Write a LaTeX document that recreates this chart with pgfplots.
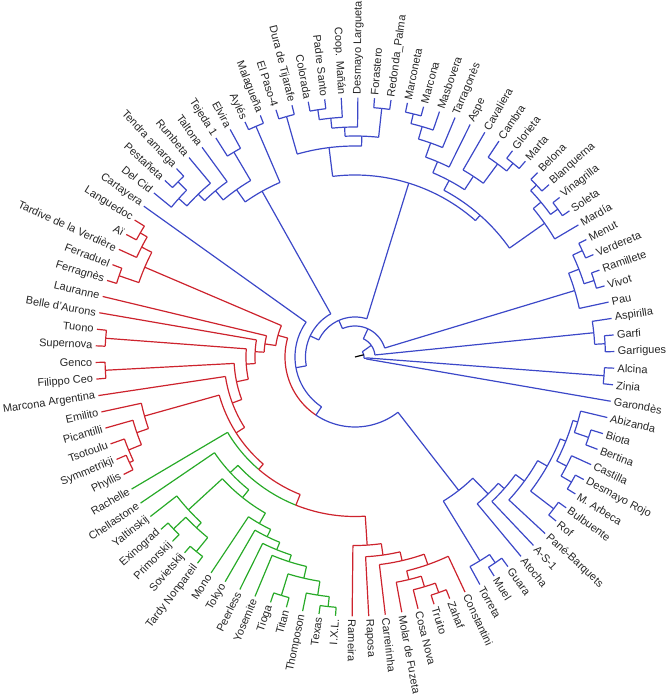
\documentclass[border=0pt]{standalone}
\usepackage{fontspec}
\setmainfont{Liberation Sans}
\usepackage{pgfplots}
\pgfplotsset{compat=1.18}
\usepgfplotslibrary{polar}
\definecolor{cb}{RGB}{60,72,200}
\definecolor{cr}{RGB}{205,35,45}
\definecolor{cg}{RGB}{40,170,40}
\newcommand{\Arc}[4]{%
 \pgfmathsetmacro\aa{min(#1,#2)}\pgfmathsetmacro\bb{max(#1,#2)}%
 \edef\tmp{\noexpand\addplot[#4,domain=\aa:\bb,samples=30]{#3};}\tmp}
\newcommand{\Edge}[4]{\addplot[#4] coordinates {(#1,#2) (#1,#3)};}
\newcommand{\Nd}[8]{\Arc{#1}{#7}{#8}{#3}\Arc{#7}{#4}{#8}{#6}\Edge{#1}{#8}{#2}{#3}\Edge{#4}{#8}{#5}{#6}}
\tikzset{lab/.style={font=\fontsize{5.5}{6}\selectfont,text=black!85,inner sep=0pt}}
\newcommand{\LR}[2]{\node[lab,anchor=west,rotate=#1] at (axis cs:#1,262.5) {#2};}
\newcommand{\LL}[2]{\node[lab,anchor=east,rotate=#1-180] at (axis cs:#1,262.5) {#2};}
\begin{document}
\begin{tikzpicture}
\begin{polaraxis}[scale only axis, width=260pt, height=260pt, ymin=0, ymax=260,
  hide axis, clip=false, xtick=\empty, ytick=\empty,
  every axis plot/.append style={line width=0.6pt, mark=none}]
\coordinate (O) at (axis cs:0,0);
% ---------- blue ----------
\Nd{26.92}{259.5}{cb}{23.24}{259.5}{cb}{25.08}{251}
\Nd{19.57}{259.5}{cb}{15.90}{259.5}{cb}{17.74}{251}
\Nd{25.08}{251}{cb}{17.74}{251}{cb}{21.41}{240.5}
\Nd{21.41}{240.5}{cb}{12.22}{259.5}{cb}{16.82}{229.5}
\Nd{4.87}{259.5}{cb}{1.20}{259.5}{cb}{3.04}{250.4}
\Nd{8.55}{259.5}{cb}{3.04}{250.4}{cb}{5.80}{240}
\Nd{-2.47}{259.5}{cb}{-6.15}{259.5}{cb}{-4.31}{249.7}
\Nd{342.83}{259.5}{cb}{339.16}{259.5}{cb}{341.0}{247}
\Nd{346.51}{259.5}{cb}{341.0}{247}{cb}{343.75}{232}
\Nd{331.82}{259.5}{cb}{328.14}{259.5}{cb}{329.98}{250}
\Nd{335.49}{259.5}{cb}{329.98}{250}{cb}{332.73}{238}
\Nd{343.75}{232}{cb}{332.73}{238}{cb}{338.24}{227}
\Nd{324.47}{259.5}{cb}{320.80}{259.5}{cb}{322.63}{250}
\Nd{338.24}{227}{cb}{322.63}{250}{cb}{330.43}{221}
\Nd{330.43}{221}{cb}{317.12}{259.5}{cb}{323.78}{210}
\Nd{323.78}{210}{cb}{313.45}{259.5}{cb}{318.61}{199}
\Nd{318.61}{199}{cb}{309.78}{259.5}{cb}{314.2}{191}
\Nd{306.11}{259.5}{cb}{302.43}{259.5}{cb}{304.27}{249}
\Nd{304.27}{249}{cb}{298.76}{259.5}{cb}{301.51}{239}
\Nd{314.2}{191}{cb}{301.51}{239}{cb}{307.86}{169}
% top-right group
\Nd{78.34}{259.5}{cb}{74.67}{259.5}{cb}{76.51}{250}
\Nd{76.51}{250}{cb}{71.00}{259.5}{cb}{73.75}{240}
\Nd{73.75}{240}{cb}{67.32}{259.5}{cb}{70.54}{227}
\Nd{70.54}{227}{cb}{63.65}{259.5}{cb}{67.09}{212}
\Nd{52.63}{259.5}{cb}{48.96}{259.5}{cb}{50.80}{250}
\Nd{56.30}{259.5}{cb}{50.80}{250}{cb}{53.55}{240}
\Nd{59.98}{259.5}{cb}{53.55}{240}{cb}{56.77}{216}
\Nd{67.09}{212}{cb}{56.77}{216}{cb}{61.93}{200}
\Nd{45.28}{259.5}{cb}{41.61}{259.5}{cb}{43.45}{250}
\Nd{37.94}{259.5}{cb}{34.27}{259.5}{cb}{36.10}{251}
\Nd{43.45}{250}{cb}{36.10}{251}{cb}{39.78}{242}
\Nd{39.78}{242}{cb}{30.59}{259.5}{cb}{35.18}{232}
\Nd{61.93}{200}{cb}{35.18}{232}{cb}{48.56}{189}
% top group
\Nd{107.73}{259.5}{cb}{104.06}{259.5}{cb}{105.90}{250}
\Nd{100.38}{259.5}{cb}{96.71}{259.5}{cb}{98.55}{250}
\Nd{98.55}{250}{cb}{93.04}{259.5}{cb}{95.79}{240}
\Nd{95.79}{240}{cb}{89.36}{259.5}{cb}{92.58}{230}
\Nd{85.69}{259.5}{cb}{82.02}{259.5}{cb}{83.86}{250}
\Nd{92.58}{230}{cb}{83.86}{250}{cb}{88.22}{221}
\Nd{105.90}{250}{cb}{88.22}{221}{cb}{97.06}{211}
\Nd{97.06}{211}{cb}{48.56}{189}{cb}{72.81}{182}
% top-left group
\Nd{137.12}{259.5}{cb}{133.45}{259.5}{cb}{135.28}{249}
\Nd{140.79}{259.5}{cb}{135.28}{249}{cb}{138.04}{237}
\Nd{138.04}{237}{cb}{129.77}{259.5}{cb}{133.90}{226}
\Nd{133.90}{226}{cb}{126.10}{259.5}{cb}{130.00}{217}
\Nd{122.42}{259.5}{cb}{118.75}{259.5}{cb}{120.59}{238}
\Nd{130.00}{217}{cb}{120.59}{238}{cb}{125.30}{205}
\Nd{115.08}{259.5}{cb}{111.40}{259.5}{cb}{113.24}{251}
\Nd{125.30}{205}{cb}{113.24}{251}{cb}{119.27}{190}
% backbone
\Nd{164.30}{80}{cr}{307.86}{169}{cb}{236.08}{70}
\Nd{144.47}{259.5}{cb}{236.08}{70}{cb}{190.28}{60}
\Nd{119.27}{190}{cb}{190.28}{60}{cb}{154.78}{49.5}
\Nd{72.81}{182}{cb}{154.78}{49.5}{cb}{113.80}{40}
\Nd{16.82}{229.5}{cb}{113.80}{40}{cb}{65.31}{31}
\Nd{5.80}{240}{cb}{65.31}{31}{cb}{35.56}{20}
\Nd{-4.31}{249.7}{cb}{-9.82}{259.5}{cb}{-7.07}{11.5}
\Nd{-7.07}{11.5}{cb}{35.56}{20}{cb}{14.25}{9}
\Edge{14.25}{0}{9}{black}
% ---------- red ----------
\Nd{148.14}{259.5}{cr}{151.82}{259.5}{cr}{149.98}{248}
\Nd{149.98}{248}{cr}{155.49}{259.5}{cr}{152.74}{240}
\Nd{159.16}{259.5}{cr}{162.84}{259.5}{cr}{161.00}{249.5}
\Nd{152.74}{240}{cr}{161.00}{249.5}{cr}{156.87}{228.6}
\Nd{173.86}{259.5}{cr}{177.53}{259.5}{cr}{175.70}{250}
\Nd{181.20}{259.5}{cr}{184.88}{259.5}{cr}{183.04}{250}
\Nd{203.24}{259.5}{cr}{206.92}{259.5}{cr}{205.08}{249}
\Nd{199.57}{259.5}{cr}{205.08}{249}{cr}{202.33}{244.7}
\Nd{195.90}{259.5}{cr}{202.33}{244.7}{cr}{199.12}{230.9}
\Nd{192.22}{259.5}{cr}{199.12}{230.9}{cr}{195.67}{218.6}
\Nd{287.73}{259.5}{cr}{291.41}{259.5}{cr}{289.57}{250}
\Nd{284.06}{259.5}{cr}{289.57}{250}{cr}{286.82}{240}
\Nd{280.39}{259.5}{cr}{286.82}{240}{cr}{283.60}{229}
\Nd{283.60}{229}{cr}{295.08}{259.5}{cr}{289.34}{220}
\Nd{276.71}{259.5}{cr}{289.34}{220}{cr}{283.03}{209}
\Nd{273.04}{259.5}{cr}{283.03}{209}{cr}{278.03}{200}
\Nd{269.37}{259.5}{cr}{278.03}{200}{cr}{273.70}{188.5}
% ---------- green ----------
\Nd{265.69}{259.5}{cg}{262.02}{259.5}{cg}{263.86}{251}
\Nd{258.35}{259.5}{cg}{263.86}{251}{cg}{261.10}{241}
\Nd{254.67}{259.5}{cg}{251.00}{259.5}{cg}{252.84}{249.5}
\Nd{252.84}{249.5}{cg}{261.10}{241}{cg}{256.97}{227}
\Nd{247.33}{259.5}{cg}{256.97}{227}{cg}{252.15}{215}
\Nd{243.65}{259.5}{cg}{252.15}{215}{cg}{247.90}{208}
\Nd{239.98}{259.5}{cg}{247.90}{208}{cg}{243.94}{200}
\Nd{236.31}{259.5}{cg}{243.94}{200}{cg}{240.13}{192}
\Nd{221.61}{259.5}{cg}{225.29}{259.5}{cg}{223.45}{250}
\Nd{228.96}{259.5}{cg}{232.63}{259.5}{cg}{230.80}{251}
\Nd{223.45}{250}{cg}{230.80}{251}{cg}{227.13}{233}
\Nd{217.94}{259.5}{cg}{227.13}{233}{cg}{222.54}{226}
\Nd{222.54}{226}{cg}{240.13}{192}{cg}{231.34}{180}
\Nd{214.27}{259.5}{cg}{231.34}{180}{cg}{222.80}{170}
% red ladder
\Nd{222.80}{170}{cg}{273.70}{188.5}{cr}{248.25}{159.5}
\Nd{210.59}{259.5}{cg}{248.25}{159.5}{cr}{229.42}{148}
\Nd{195.67}{218.6}{cr}{229.42}{148}{cr}{212.55}{141}
\Nd{188.55}{259.5}{cr}{212.55}{141}{cr}{200.55}{131}
\Nd{183.04}{250}{cr}{200.55}{131}{cr}{191.80}{121}
\Nd{175.70}{250}{cr}{191.80}{121}{cr}{183.75}{109}
\Nd{170.18}{259.5}{cr}{183.75}{109}{cr}{176.97}{100}
\Nd{166.51}{259.5}{cr}{176.97}{100}{cr}{171.74}{91}
\Nd{156.87}{228.6}{cr}{171.74}{91}{cr}{164.30}{80}
% ---------- labels ----------
\LL{144.47}{Cartayera}
\LL{140.79}{Del Cid}
\LL{137.12}{Pestañeta}
\LL{133.45}{Tendra amarga}
\LL{129.77}{Rumbeta}
\LL{126.10}{Taltona}
\LL{122.42}{Tejeda 1}
\LL{118.75}{Elvira}
\LL{115.08}{Aylés}
\LL{111.40}{Malagueña}
\LL{107.73}{El Paso-4}
\LL{104.06}{Dura de Tijarafe}
\LL{100.38}{Colorada}
\LL{96.71}{Padre Santo}
\LL{93.04}{Coop. Mañán}
\LR{89.36}{Desmayo Largueta}
\LR{85.69}{Forastero}
\LR{82.02}{Redonda\_Palma}
\LR{78.34}{Marconeta}
\LR{74.67}{Marcona}
\LR{71.00}{Masbovera}
\LR{67.32}{Tarragonès}
\LR{63.65}{Aspe}
\LR{59.98}{Cavaliera}
\LR{56.30}{Cambra}
\LR{52.63}{Glorieta}
\LR{48.96}{Marta}
\LR{45.28}{Belona}
\LR{41.61}{Blanquerna}
\LR{37.94}{Vinagrilla}
\LR{34.27}{Soleta}
\LR{30.59}{Mardía}
\LR{26.92}{Menut}
\LR{23.24}{Verdereta}
\LR{19.57}{Ramillete}
\LR{15.90}{Vivot}
\LR{12.22}{Pau}
\LR{8.55}{Aspirilla}
\LR{4.87}{Garfi}
\LR{1.20}{Garrigues}
\LR{-2.47}{Alcina}
\LR{-6.15}{Zinia}
\LR{-9.82}{Garondès}
\LR{346.51}{Abizanda}
\LR{342.83}{Biota}
\LR{339.16}{Bertina}
\LR{335.49}{Castilla}
\LR{331.82}{Desmayo Rojo}
\LR{328.14}{M. Arbeca}
\LR{324.47}{Bulbuente}
\LR{320.80}{Rof}
\LR{317.12}{Pané-Barquets}
\LR{313.45}{A-S-1}
\LR{309.78}{Atocha}
\LR{306.11}{Guara}
\LR{302.43}{Muel}
\LR{298.76}{Torreta}
\LR{295.08}{Constantini}
\LR{291.41}{Zahaf}
\LR{287.73}{Truito}
\LR{284.06}{Cosa Nova}
\LR{280.39}{Molar de Fuzeta}
\LR{276.71}{Carreirinha}
\LR{273.04}{Raposa}
\LR{269.37}{Rameira}
\LL{265.69}{I.X.L.}
\LL{262.02}{Texas}
\LL{258.35}{Thomposon}
\LL{254.67}{Titan}
\LL{251.00}{Tioga}
\LL{247.33}{Yosemite}
\LL{243.65}{Peerless}
\LL{239.98}{Tokyo}
\LL{236.31}{Mono}
\LL{232.63}{Tardy Nonpareil}
\LL{228.96}{Sovietskij}
\LL{225.29}{Primorskij}
\LL{221.61}{Exinograd}
\LL{217.94}{Yaltinskij}
\LL{214.27}{Chellastone}
\LL{210.59}{Rachelle}
\LL{206.92}{Phyllis}
\LL{203.24}{Symmetrikji}
\LL{199.57}{Tsotoulu}
\LL{195.90}{Picantilli}
\LL{192.22}{Emilito}
\LL{188.55}{Marcona Argentina}
\LL{184.88}{Filippo Ceo}
\LL{181.20}{Genco}
\LL{177.53}{Supernova}
\LL{173.86}{Tuono}
\LL{170.18}{Belle d'Aurons}
\LL{166.51}{Lauranne}
\LL{162.84}{Ferragnès}
\LL{159.16}{Ferraduel}
\LL{155.49}{Tardive de la Verdière}
\LL{151.82}{Aï}
\LL{148.14}{Languedoc}
\end{polaraxis}
\pgfresetboundingbox
\path[use as bounding box] ([shift={(-177.5pt,-170pt)}]O) rectangle ([shift={(157pt,178.5pt)}]O);
\end{tikzpicture}
\end{document}
